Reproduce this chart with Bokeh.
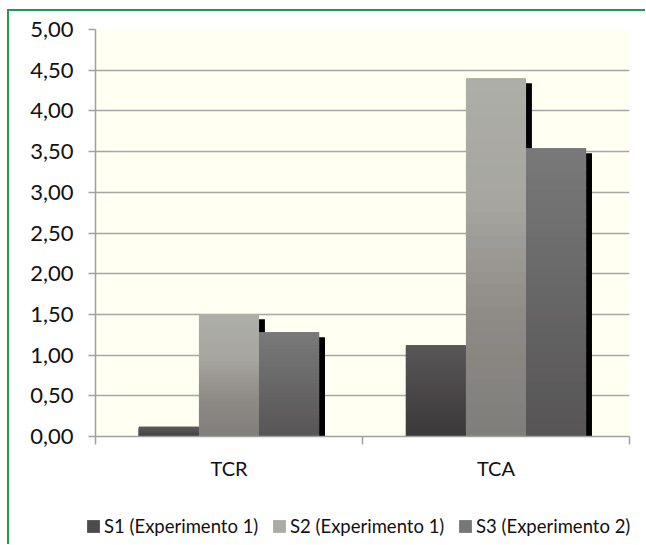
from bokeh.plotting import figure
from bokeh.layouts import column
from bokeh.models import (Range1d, FixedTicker, CustomJSTickFormatter, Legend,
                          LegendItem)
from bokeh.embed import file_html
from bokeh.resources import INLINE

# ---- data ----
categories = ["TCR", "TCA"]
series_names = ["S1 (Experimento 1)", "S2 (Experimento 1)", "S3 (Experimento 2)"]
s1_values = [0.12, 1.12]
s2_values = [1.50, 4.40]
s3_values = [1.28, 3.54]
y_ticks = [0.0, 0.5, 1.0, 1.5, 2.0, 2.5, 3.0, 3.5, 4.0, 4.5, 5.0]

series_values = [s1_values, s2_values, s3_values]

# ---- style ----
FONT = "Lato"
legend_colors = ["#4e4b4c", "#abaaa5", "#777777"]
# gradient stops (t = 0 bottom of bar, t = 1 top of bar)
gradients = [
    [(0.0, (58, 56, 57)), (1.0, (88, 85, 86))],
    [(0.0, (126, 125, 122)), (0.35, (143, 139, 135)), (0.65, (166, 165, 160)), (1.0, (174, 174, 168))],
    [(0.0, (86, 84, 84)), (1.0, (121, 121, 121))],
]
bar_w = 0.225
offsets = [-0.225, 0.0, 0.225]
shadow_dx = 0.022
shadow_dy = 0.06
N_BANDS = 30
OVERLAP = 0.03


def interp(stops, t):
    for (t0, c0), (t1, c1) in zip(stops[:-1], stops[1:]):
        if t0 <= t <= t1:
            f = (t - t0) / (t1 - t0)
            c = [round(a + (b - a) * f) for a, b in zip(c0, c1)]
            return "#%02x%02x%02x" % tuple(c)
    c = stops[-1][1]
    return "#%02x%02x%02x" % tuple(c)


p = figure(width=636, height=479, output_backend="svg", toolbar_location=None,
           x_range=Range1d(0, len(categories)), y_range=Range1d(0, 5),
           min_border_left=86, min_border_right=16, min_border_top=18,
           min_border_bottom=54)
p.background_fill_color = "#fffff2"
p.border_fill_color = "white"
p.outline_line_color = None

cat_pos = [i + 0.5 for i in range(len(categories))]

for si, vals in enumerate(series_values):
    xs = [c + offsets[si] for c in cat_pos]
    # shadow
    p.quad(left=[x - bar_w / 2 + shadow_dx for x in xs],
           right=[x + bar_w / 2 + shadow_dx for x in xs],
           top=[v - shadow_dy for v in vals], bottom=[0] * len(vals),
           fill_color="black", line_color=None)
    # solid bar
    p.quad(left=[x - bar_w / 2 for x in xs], right=[x + bar_w / 2 for x in xs],
           top=vals, bottom=[0] * len(vals),
           fill_color=legend_colors[si], line_color=None)
    # gradient bands
    L, R, B, T, C = [], [], [], [], []
    for x, v in zip(xs, vals):
        for k in range(N_BANDS):
            L.append(x - bar_w / 2)
            R.append(x + bar_w / 2)
            B.append(max(0.0, v * k / N_BANDS - OVERLAP))
            T.append(v * (k + 1) / N_BANDS)
            C.append(interp(gradients[si], (k + 0.5) / N_BANDS))
    p.quad(left=L, right=R, bottom=B, top=T, fill_color=C, line_color=None)

# grid
p.xgrid.grid_line_color = None
p.ygrid.grid_line_color = "#a6a6a6"
p.ygrid.grid_line_width = 1.5
p.ygrid.ticker = FixedTicker(ticks=y_ticks)

# y axis
ya = p.yaxis[0]
ya.ticker = FixedTicker(ticks=y_ticks)
ya.formatter = CustomJSTickFormatter(code="return tick.toFixed(2).replace('.', ',');")
ya.axis_line_color = "#a0a0a0"
ya.axis_line_width = 1.5
ya.major_tick_line_color = "#a0a0a0"
ya.major_tick_line_width = 1.5
ya.major_tick_out = 7
ya.major_tick_in = 0
ya.minor_tick_line_color = None
ya.major_label_standoff = 15
ya.major_label_text_font = FONT
ya.major_label_text_font_size = "22px"
ya.major_label_text_color = "#111111"

# x axis
xa = p.xaxis[0]
xa.ticker = FixedTicker(ticks=cat_pos, minor_ticks=[float(i) for i in range(len(categories) + 1)])
xa.major_label_overrides = {c: n for c, n in zip(cat_pos, categories)}
xa.axis_line_color = "#a0a0a0"
xa.axis_line_width = 1.5
xa.major_tick_line_color = None
xa.major_tick_out = 8
xa.major_tick_in = 0
xa.minor_tick_line_color = "#a0a0a0"
xa.minor_tick_line_width = 1.5
xa.minor_tick_out = 8
xa.minor_tick_in = 0
xa.major_label_standoff = 11
xa.major_label_text_font = FONT
xa.major_label_text_font_size = "20px"
xa.major_label_text_color = "#111111"

# ---- legend strip (separate figure below the chart) ----
p2 = figure(width=636, height=54, output_backend="svg", toolbar_location=None,
            x_axis_location=None, y_axis_location=None, min_border=0,
            x_range=Range1d(0, 1), y_range=Range1d(0, 1))
if "frame_align" in p2.properties():
    p2.frame_align = False
    legend_loc = (76, 7)
else:
    legend_loc = (-8, 7)
p2.outline_line_color = None
p2.grid.visible = False
p2.background_fill_color = "white"
p2.border_fill_color = "white"
# legend swatches: one off-screen quad per series (outside the 0..1 ranges)
legend_renderers = [p2.quad(left=[5], right=[6], top=[6], bottom=[5], fill_color=c, line_color=None)
                    for c in legend_colors]
legend = Legend(items=[LegendItem(label=n, renderers=[r]) for n, r in zip(series_names, legend_renderers)],
                orientation="horizontal", location=legend_loc,
                glyph_width=16, glyph_height=16, label_standoff=3, spacing=10,
                padding=0, margin=0, label_width=157,
                label_text_font=FONT, label_text_font_size="18.5px",
                label_text_color="#111111",
                border_line_color=None, background_fill_alpha=0)
p2.add_layout(legend, "center")

lay = column(p, p2, spacing=0)
lay.styles = {"margin-left": "7px", "margin-top": "9px",
              "border-left": "2px solid #22994f", "border-top": "2px solid #22994f"}

open("out.html", "w").write(file_html(lay, INLINE))
